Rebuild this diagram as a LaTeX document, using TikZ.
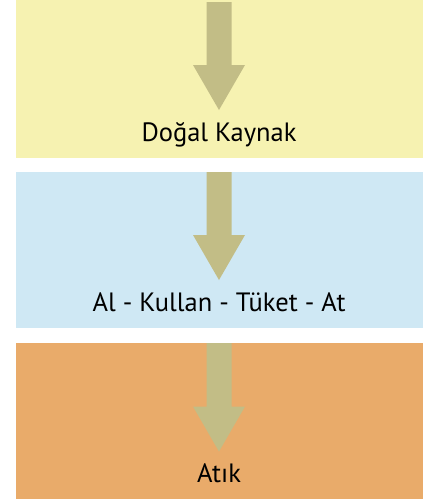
\documentclass[tikz,border=0pt]{standalone}
\usepackage{fontspec}
\setmainfont{PT Sans}
\usetikzlibrary{calc}
\definecolor{BandYellow}{HTML}{F6F2B1}
\definecolor{BandBlue}{HTML}{CFE8F4}
\definecolor{BandOrange}{HTML}{E9AB6A}
\definecolor{ArrowClr}{HTML}{C2BD86}
% band from top y to bottom y
\newcommand{\Band}[3]{\fill[#1] (16,#2) rectangle (423,#3);}
% arrow: top of shaft, base of head, tip
\newcommand{\DownArrow}[3]{\fill[ArrowClr] (206.5,#1) -- (231.5,#1) -- (231.5,#2) -- (245,#2) -- (219,#3) -- (193,#2) -- (206.5,#2) -- cycle;}
\tikzset{stagelabel/.style={anchor=base,inner sep=0pt,font=\fontsize{26.5}{31}\selectfont}}

\begin{document}
\begin{tikzpicture}[x=1pt,y=-1pt]
\useasboundingbox (0,0) rectangle (423,499);
\Band{BandYellow}{0}{157.5}
\Band{BandBlue}{172}{327.5}
\Band{BandOrange}{343}{499}
\DownArrow{2}{65}{110}
\DownArrow{172}{235}{280}
\DownArrow{343}{406.5}{451.5}
\node[stagelabel] (kaynak) at (219,141.5) {Doğal Kaynak};
\node[stagelabel] (tuketim) at (219,311.5) {Al - Kullan - Tüket - At};
\node[stagelabel] (atik) at (219,482.5) {Atık};
\end{tikzpicture}
\end{document}
